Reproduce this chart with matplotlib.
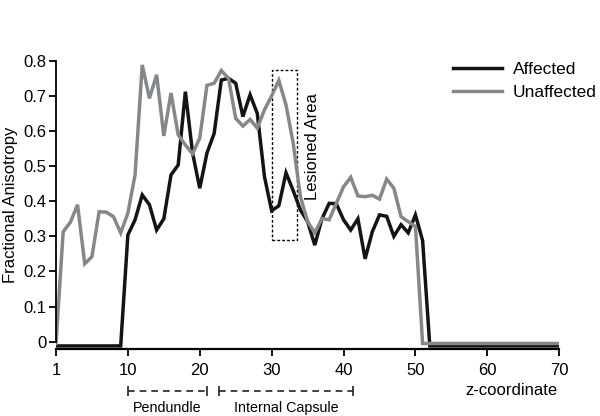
import matplotlib
matplotlib.use('Agg')
import matplotlib.pyplot as plt
from matplotlib.patches import Rectangle
import numpy as np

plt.rcParams['font.family'] = ['Liberation Sans', 'DejaVu Sans']

# z positions (0..70), tick labels as on the original axis
z = np.arange(0, 71)
xtick_pos = [0, 10, 20, 30, 40, 50, 60, 70]
xtick_labels = ['1', '10', '20', '30', '40', '50', '60', '70']
ytick_pos = [0, 0.1, 0.2, 0.3, 0.4, 0.5, 0.6, 0.7, 0.8]
ytick_labels = ['0', '0.1', '0.2', '0.3', '0.4', '0.5', '0.6', '0.7', '0.8']

affected = [-0.012] * 10 + [
    0.304, 0.347, 0.418, 0.39, 0.318, 0.35, 0.475, 0.503, 0.712, 0.537,
    0.437, 0.537, 0.593, 0.745, 0.75, 0.736, 0.641, 0.703, 0.65, 0.47,
    0.373, 0.387, 0.481, 0.43, 0.375, 0.342, 0.275, 0.35, 0.394, 0.393,
    0.347, 0.318, 0.35, 0.236, 0.313, 0.361, 0.357, 0.3, 0.333, 0.31,
    0.361, 0.288] + [-0.012] * 19

unaffected = [-0.005,
    0.313, 0.34, 0.39, 0.222, 0.242, 0.37, 0.369, 0.356, 0.31, 0.366,
    0.475, 0.788, 0.693, 0.76, 0.586, 0.708, 0.589, 0.56, 0.535, 0.58,
    0.73, 0.736, 0.772, 0.75, 0.636, 0.614, 0.633, 0.608, 0.66, 0.70,
    0.744, 0.674, 0.565, 0.413, 0.342, 0.31, 0.351, 0.347, 0.394, 0.441,
    0.468, 0.415, 0.413, 0.417, 0.406, 0.463, 0.437, 0.356, 0.342, 0.328] + [-0.005] * 20

# lesioned area box: z range and FA range
lesion_z = (30, 33.5)
lesion_fa = (0.29, 0.775)

# anatomical ranges under the axis
regions = [('Pendundle', 10.05, 21.0), ('Internal Capsule', 22.7, 41.3)]

black = '#141414'
gray = '#85888b'


def main():
    fig = plt.figure(figsize=(6, 4.16), dpi=100)
    ax = fig.add_axes([0.0933, 0.160, 0.8387, 0.694])

    ax.plot(z, affected, color=black, lw=2.5, label='Affected', solid_joinstyle='miter')
    ax.plot(z, unaffected, color=gray, lw=2.5, label='Unaffected', solid_joinstyle='miter')

    ax.set_xlim(0, 70)
    ax.set_ylim(-0.022, 0.8)
    ax.set_xticks(xtick_pos)
    ax.set_xticklabels(xtick_labels, fontsize=12)
    ax.set_yticks(ytick_pos)
    ax.set_yticklabels(ytick_labels, fontsize=12)
    ax.tick_params(axis='both', direction='out', length=5, width=1.3, color='black', pad=2)
    ax.tick_params(axis='x', pad=5)

    for s in ['top', 'right']:
        ax.spines[s].set_visible(False)
    ax.spines['left'].set_bounds(0, 0.8)
    ax.spines['left'].set_linewidth(1.3)
    ax.spines['bottom'].set_linewidth(1.6)

    ax.set_ylabel('Fractional Anisotropy', fontsize=12, labelpad=4)

    # lesioned area
    ax.add_patch(Rectangle((lesion_z[0], lesion_fa[0]), lesion_z[1] - lesion_z[0],
                           lesion_fa[1] - lesion_fa[0], fill=False, ec='black',
                           lw=1.0, ls=(0, (2, 1.5))))
    ax.text(35.7, 0.556, 'Lesioned Area', rotation=90, ha='center', va='center', fontsize=12)

    # bracket ranges below axis
    for name, z0, z1 in regions:
        ax.plot([z0, z1], [-0.1405, -0.1405], color='#222222', lw=1.2, ls=(0, (4, 3)),
                clip_on=False)
        ax.plot([z0, z1], [-0.1405, -0.1405], ls='none', marker='|', ms=7, mew=1.2,
                color='#222222', clip_on=False)
        ax.text((z0 + z1) / 2, -0.19, name, ha='center', va='center', fontsize=10.3)

    ax.text(63.3, -0.14, 'z-coordinate', ha='center', va='center', fontsize=12)

    ax.legend(loc='upper left', bbox_to_anchor=(453 / 600, 1 - 62 / 416),
              bbox_transform=fig.transFigure, frameon=False, fontsize=12.5,
              handlelength=2.8, handletextpad=0.63, labelspacing=0.44,
              borderpad=0, borderaxespad=0)

    fig.savefig('out.png', dpi=100)


if __name__ == '__main__':
    main()
